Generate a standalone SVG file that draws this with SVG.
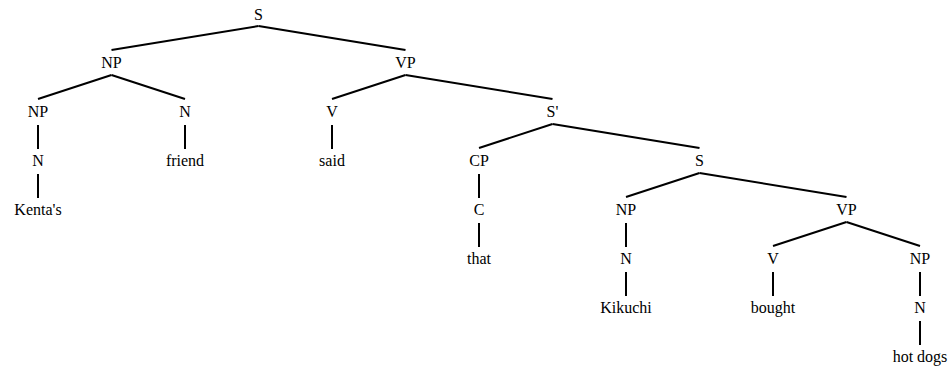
<svg xmlns="http://www.w3.org/2000/svg" width="951" height="371" viewBox="0 0 951 371">
<style>
text{font-family:"Liberation Serif","Times New Roman",serif;font-size:16px;fill:#000;text-anchor:middle}
.e line{stroke:#000;stroke-width:2;fill:none}
</style>
<rect width="951" height="371" fill="#fff"/>
<g class="e" id="connectors">
<line x1="258.5" y1="26" x2="111.5" y2="50"/>
<line x1="258.5" y1="26" x2="405.5" y2="50"/>
<line x1="111.5" y1="75" x2="38" y2="99"/>
<line x1="111.5" y1="75" x2="185" y2="99"/>
<line x1="405.5" y1="75" x2="332" y2="99"/>
<line x1="405.5" y1="75" x2="552.5" y2="99"/>
<line x1="38" y1="125" x2="38" y2="149"/>
<line x1="185" y1="125" x2="185" y2="149"/>
<line x1="332" y1="125" x2="332" y2="149"/>
<line x1="552.5" y1="124" x2="479" y2="148"/>
<line x1="552.5" y1="124" x2="699.5" y2="148"/>
<line x1="38" y1="174" x2="38" y2="198"/>
<line x1="479" y1="174" x2="479" y2="198"/>
<line x1="699.5" y1="173" x2="626" y2="197"/>
<line x1="699.5" y1="173" x2="846.5" y2="197"/>
<line x1="479" y1="223" x2="479" y2="247"/>
<line x1="626" y1="223" x2="626" y2="247"/>
<line x1="846.5" y1="222" x2="773" y2="246"/>
<line x1="846.5" y1="222" x2="920" y2="246"/>
<line x1="626" y1="272" x2="626" y2="296"/>
<line x1="773" y1="272" x2="773" y2="296"/>
<line x1="920" y1="272" x2="920" y2="296"/>
<line x1="920" y1="321" x2="920" y2="345"/>
</g>
<g id="n_S"><text x="258.5" y="19.5">S</text></g>
<g id="n_NP1"><text x="111.5" y="68">NP</text></g>
<g id="n_VP1"><text x="405.5" y="68">VP</text></g>
<g id="n_NP2"><text x="38" y="117">NP</text></g>
<g id="n_N1"><text x="185" y="117">N</text></g>
<g id="n_V1"><text x="332" y="117">V</text></g>
<g id="n_Sbar"><text x="552.5" y="117">S'</text></g>
<g id="n_N2"><text x="38" y="166">N</text></g>
<g id="n_friend"><text x="185" y="166">friend</text></g>
<g id="n_said"><text x="332" y="166">said</text></g>
<g id="n_CP"><text x="479" y="166">CP</text></g>
<g id="n_S2"><text x="699.5" y="166">S</text></g>
<g id="n_Kentas"><text x="38" y="215">Kenta's</text></g>
<g id="n_C"><text x="479" y="215">C</text></g>
<g id="n_NP3"><text x="626" y="215">NP</text></g>
<g id="n_VP2"><text x="846.5" y="215">VP</text></g>
<g id="n_that"><text x="479" y="264">that</text></g>
<g id="n_N3"><text x="626" y="264">N</text></g>
<g id="n_V2"><text x="773" y="264">V</text></g>
<g id="n_NP4"><text x="920" y="264">NP</text></g>
<g id="n_Kikuchi"><text x="626" y="313">Kikuchi</text></g>
<g id="n_bought"><text x="773" y="313">bought</text></g>
<g id="n_N4"><text x="920" y="313">N</text></g>
<g id="n_hotdogs"><text x="920" y="362">hot dogs</text></g>
</svg>
